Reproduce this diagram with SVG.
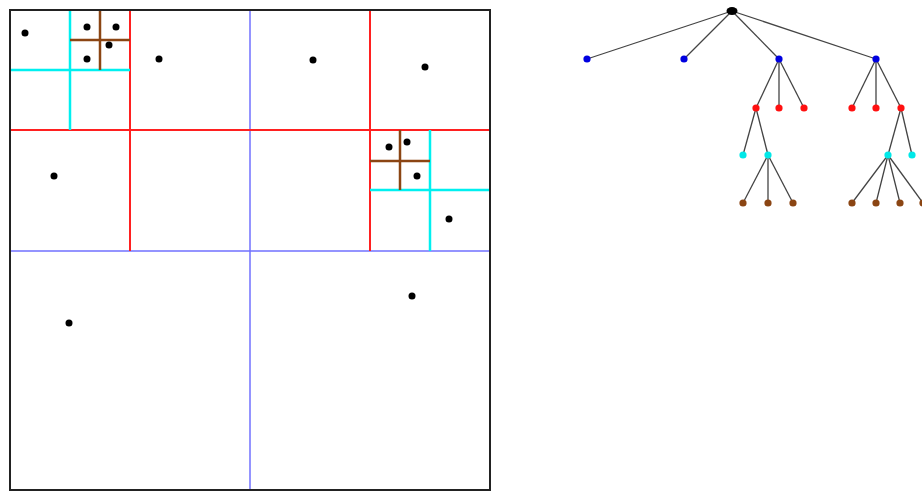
<svg xmlns="http://www.w3.org/2000/svg" width="922" height="491" viewBox="0 0 922 491">
<style>
.blue{stroke:#7070ff;stroke-width:1.5;fill:none}
.red{stroke:#ff2020;stroke-width:2;fill:none}
.cyan{stroke:#00f0f0;stroke-width:2.5;fill:none}
.brown{stroke:#8b4513;stroke-width:2.5;fill:none}
.pt{fill:#000}
.edge{stroke:#444;stroke-width:1.3;fill:none}
.n0{fill:#000}
.n1{fill:#0000e0}
.n2{fill:#ff1010}
.n3{fill:#00e8e8}
.n4{fill:#8b4513}
</style>
<rect width="922" height="491" fill="#fff"/>
<g id="quadtree">
<line class="blue" x1="250" y1="10" x2="250" y2="490"/>
<line class="blue" x1="10" y1="251" x2="490" y2="251"/>
<line class="red" x1="130" y1="10" x2="130" y2="251"/>
<line class="red" x1="370" y1="10" x2="370" y2="251"/>
<line class="red" x1="10" y1="130" x2="490" y2="130"/>
<line class="cyan" x1="70" y1="10" x2="70" y2="130"/>
<line class="cyan" x1="10" y1="70" x2="130" y2="70"/>
<line class="cyan" x1="430" y1="130" x2="430" y2="251"/>
<line class="cyan" x1="370" y1="190" x2="490" y2="190"/>
<line class="brown" x1="100" y1="10" x2="100" y2="70"/>
<line class="brown" x1="70" y1="40" x2="130" y2="40"/>
<line class="brown" x1="400" y1="130" x2="400" y2="190"/>
<line class="brown" x1="370" y1="161" x2="430" y2="161"/>
<rect x="10" y="10" width="480" height="480" fill="none" stroke="#222" stroke-width="2"/>
<circle class="pt" cx="25" cy="33" r="3.5"/>
<circle class="pt" cx="87" cy="27" r="3.5"/>
<circle class="pt" cx="116" cy="27" r="3.5"/>
<circle class="pt" cx="109" cy="45" r="3.5"/>
<circle class="pt" cx="87" cy="59" r="3.5"/>
<circle class="pt" cx="159" cy="59" r="3.5"/>
<circle class="pt" cx="313" cy="60" r="3.5"/>
<circle class="pt" cx="425" cy="67" r="3.5"/>
<circle class="pt" cx="54" cy="176" r="3.5"/>
<circle class="pt" cx="389" cy="147" r="3.5"/>
<circle class="pt" cx="407" cy="142" r="3.5"/>
<circle class="pt" cx="417" cy="176" r="3.5"/>
<circle class="pt" cx="449" cy="219" r="3.5"/>
<circle class="pt" cx="412" cy="296" r="3.5"/>
<circle class="pt" cx="69" cy="323" r="3.5"/>
</g>
<g id="connectors">
<line class="edge" x1="732" y1="11" x2="587" y2="59"/>
<line class="edge" x1="732" y1="11" x2="684" y2="59"/>
<line class="edge" x1="732" y1="11" x2="779" y2="59"/>
<line class="edge" x1="732" y1="11" x2="876" y2="59"/>
<line class="edge" x1="779" y1="59" x2="756" y2="108"/>
<line class="edge" x1="779" y1="59" x2="779" y2="108"/>
<line class="edge" x1="779" y1="59" x2="804" y2="108"/>
<line class="edge" x1="876" y1="59" x2="852" y2="108"/>
<line class="edge" x1="876" y1="59" x2="876" y2="108"/>
<line class="edge" x1="876" y1="59" x2="901" y2="108"/>
<line class="edge" x1="756" y1="108" x2="743" y2="155"/>
<line class="edge" x1="756" y1="108" x2="768" y2="155"/>
<line class="edge" x1="901" y1="108" x2="888" y2="155"/>
<line class="edge" x1="901" y1="108" x2="912" y2="155"/>
<line class="edge" x1="768" y1="155" x2="743" y2="203"/>
<line class="edge" x1="768" y1="155" x2="768" y2="203"/>
<line class="edge" x1="768" y1="155" x2="793" y2="203"/>
<line class="edge" x1="888" y1="155" x2="852" y2="203"/>
<line class="edge" x1="888" y1="155" x2="876" y2="203"/>
<line class="edge" x1="888" y1="155" x2="900" y2="203"/>
<line class="edge" x1="888" y1="155" x2="923" y2="203"/>
</g>
<g id="root"><ellipse class="n0" cx="732" cy="11" rx="5.5" ry="4"/></g>
<g id="b1"><circle class="n1" cx="587" cy="59" r="3.6"/></g>
<g id="b2"><circle class="n1" cx="684" cy="59" r="3.6"/></g>
<g id="b3"><circle class="n1" cx="779" cy="59" r="3.6"/></g>
<g id="b4"><circle class="n1" cx="876" cy="59" r="3.6"/></g>
<g id="r1"><circle class="n2" cx="756" cy="108" r="3.6"/></g>
<g id="r2"><circle class="n2" cx="779" cy="108" r="3.6"/></g>
<g id="r3"><circle class="n2" cx="804" cy="108" r="3.6"/></g>
<g id="r4"><circle class="n2" cx="852" cy="108" r="3.6"/></g>
<g id="r5"><circle class="n2" cx="876" cy="108" r="3.6"/></g>
<g id="r6"><circle class="n2" cx="901" cy="108" r="3.6"/></g>
<g id="c1"><circle class="n3" cx="743" cy="155" r="3.6"/></g>
<g id="c2"><circle class="n3" cx="768" cy="155" r="3.6"/></g>
<g id="c3"><circle class="n3" cx="888" cy="155" r="3.6"/></g>
<g id="c4"><circle class="n3" cx="912" cy="155" r="3.6"/></g>
<g id="w1"><circle class="n4" cx="743" cy="203" r="3.6"/></g>
<g id="w2"><circle class="n4" cx="768" cy="203" r="3.6"/></g>
<g id="w3"><circle class="n4" cx="793" cy="203" r="3.6"/></g>
<g id="w4"><circle class="n4" cx="852" cy="203" r="3.6"/></g>
<g id="w5"><circle class="n4" cx="876" cy="203" r="3.6"/></g>
<g id="w6"><circle class="n4" cx="900" cy="203" r="3.6"/></g>
<g id="w7"><circle class="n4" cx="923" cy="203" r="3.6"/></g>
</svg>
